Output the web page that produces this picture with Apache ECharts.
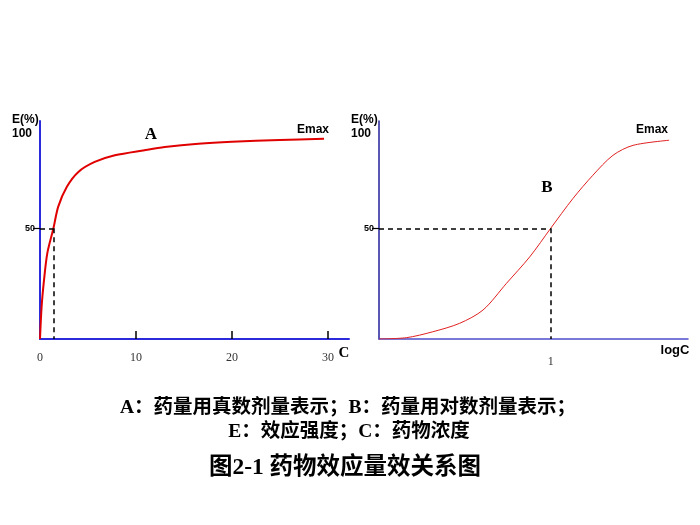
<!DOCTYPE html>
<html>
<head>
<meta charset="utf-8">
<script src="https://cdn.jsdelivr.net/npm/echarts@6/dist/echarts.min.js"></script>
<style>
  html, body { margin: 0; padding: 0; background: #fff; }
  #chart { width: 700px; height: 525px; }
</style>
</head>
<body>
<div id="chart"></div>
<script>
// panel A: effect vs. concentration (linear)
const concA = [0, 0.17, 0.42, 0.76, 1.4, 1.9, 2.8, 4.0, 5.7, 7.8, 10.9, 13, 16.5, 20, 25, 29.6];
const effectA = [0, 14.7, 26.7, 38.7, 50, 59.8, 68.8, 75.5, 80, 83, 85.3, 86.7, 88.2, 89.1, 89.9, 90.5];
const ticksA = [0, 10, 20, 30];
const ec50A = 1.4;

// panel B: effect vs. log concentration
const logC = [0, 0.16, 0.31, 0.47, 0.606, 0.742, 0.878, 1, 1.13, 1.246, 1.363, 1.48, 1.69];
const effectB = [0, 0.6, 3.2, 7.1, 13.1, 25.1, 37.1, 50, 63.5, 74, 83, 87.5, 89.8];
const ticksB = [1];
const ec50B = 1;

const yTicks = [50];

const chart = echarts.init(document.getElementById('chart'), null, { renderer: 'canvas' });

const sans = '"Liberation Sans", Arial, sans-serif';
const serif = '"Liberation Serif", "Times New Roman", serif';
const cjk = '"Liberation Serif", "Noto Sans CJK SC", serif';

function pairs(xs, ys) {
  return xs.map((x, i) => [x, ys[i]]);
}

// dashed guide from the y axis to the 50% point and down to the x axis
function halfLines(x50) {
  return {
    silent: true,
    symbol: 'none',
    label: { show: false },
    lineStyle: { color: '#000', type: [5, 4], width: 1.5 },
    data: [
      [{ coord: [0, 50] }, { coord: [x50, 50] }],
      [{ coord: [x50, 50] }, { coord: [x50, 0] }]
    ]
  };
}

function yAxis(idx, color, width) {
  return {
    type: 'value', gridIndex: idx, min: 0, max: 98.5,
    axisLine: { show: true, lineStyle: { color: color, width: width } },
    axisTick: { show: true, customValues: yTicks, length: 7, lineStyle: { color: '#000', width: 1.2 } },
    axisLabel: { customValues: yTicks, fontSize: 9, fontWeight: 'bold', color: '#000', margin: 5, fontFamily: sans },
    splitLine: { show: false }
  };
}

function txt(text, x, y, font, align) {
  return {
    type: 'text', x: x, y: y,
    style: { text: text, font: font, fill: '#000', align: align || 'center', verticalAlign: 'middle' }
  };
}

chart.setOption({
  backgroundColor: '#fff',
  animation: false,
  grid: [
    { left: 40, top: 121, width: 309, height: 218 },
    { left: 379, top: 121, width: 309, height: 218 }
  ],
  xAxis: [
    {
      type: 'value', gridIndex: 0, min: 0, max: 32.2,
      axisLine: { show: true, lineStyle: { color: '#2b2bdc', width: 2 } },
      axisTick: { show: true, inside: true, customValues: [10, 20, 30], length: 8, lineStyle: { color: '#000', width: 1.5 } },
      axisLabel: { customValues: ticksA, fontSize: 12, color: '#333', margin: 13, fontFamily: serif },
      splitLine: { show: false }
    },
    {
      type: 'value', gridIndex: 1, min: 0, max: 1.8,
      axisLine: { show: true, lineStyle: { color: '#4d4dcc', width: 1.5 } },
      axisTick: { show: false },
      axisLabel: { customValues: ticksB, fontSize: 12, color: '#333', margin: 17, fontFamily: serif },
      splitLine: { show: false }
    }
  ],
  yAxis: [yAxis(0, '#2b2bdc', 2), yAxis(1, '#22229c', 1.5)],
  series: [
    {
      type: 'line', xAxisIndex: 0, yAxisIndex: 0,
      data: pairs(concA, effectA),
      smooth: 0.3, showSymbol: false, symbol: 'none',
      lineStyle: { color: '#e00000', width: 2 },
      markLine: halfLines(ec50A), z: 3
    },
    {
      type: 'line', xAxisIndex: 1, yAxisIndex: 1,
      data: pairs(logC, effectB),
      smooth: 0.3, showSymbol: false, symbol: 'none',
      lineStyle: { color: '#e02020', width: 1 },
      markLine: halfLines(ec50B), z: 3
    }
  ],
  graphic: [
    txt('E(%)', 12, 120, 'bold 12px ' + sans, 'left'),
    txt('100', 12, 134, 'bold 12px ' + sans, 'left'),
    txt('E(%)', 351, 120, 'bold 12px ' + sans, 'left'),
    txt('100', 351, 134, 'bold 12px ' + sans, 'left'),
    txt('A', 151, 135, 'bold 17px ' + serif),
    txt('B', 547, 188, 'bold 17px ' + serif),
    txt('Emax', 313, 130, 'bold 12px ' + sans),
    txt('Emax', 652, 130, 'bold 12px ' + sans),
    txt('C', 344, 353, 'bold 15px ' + serif),
    txt('logC', 675, 350, 'bold 13px ' + sans),
    txt('A：药量用真数剂量表示；B：药量用对数剂量表示；', 348, 408, 'bold 19.5px ' + cjk),
    txt('E：效应强度；C：药物浓度', 349, 432, 'bold 19.5px ' + cjk),
    txt('图2-1 药物效应量效关系图', 345, 468, 'bold 23.5px ' + cjk)
  ]
});
</script>
</body>
</html>
